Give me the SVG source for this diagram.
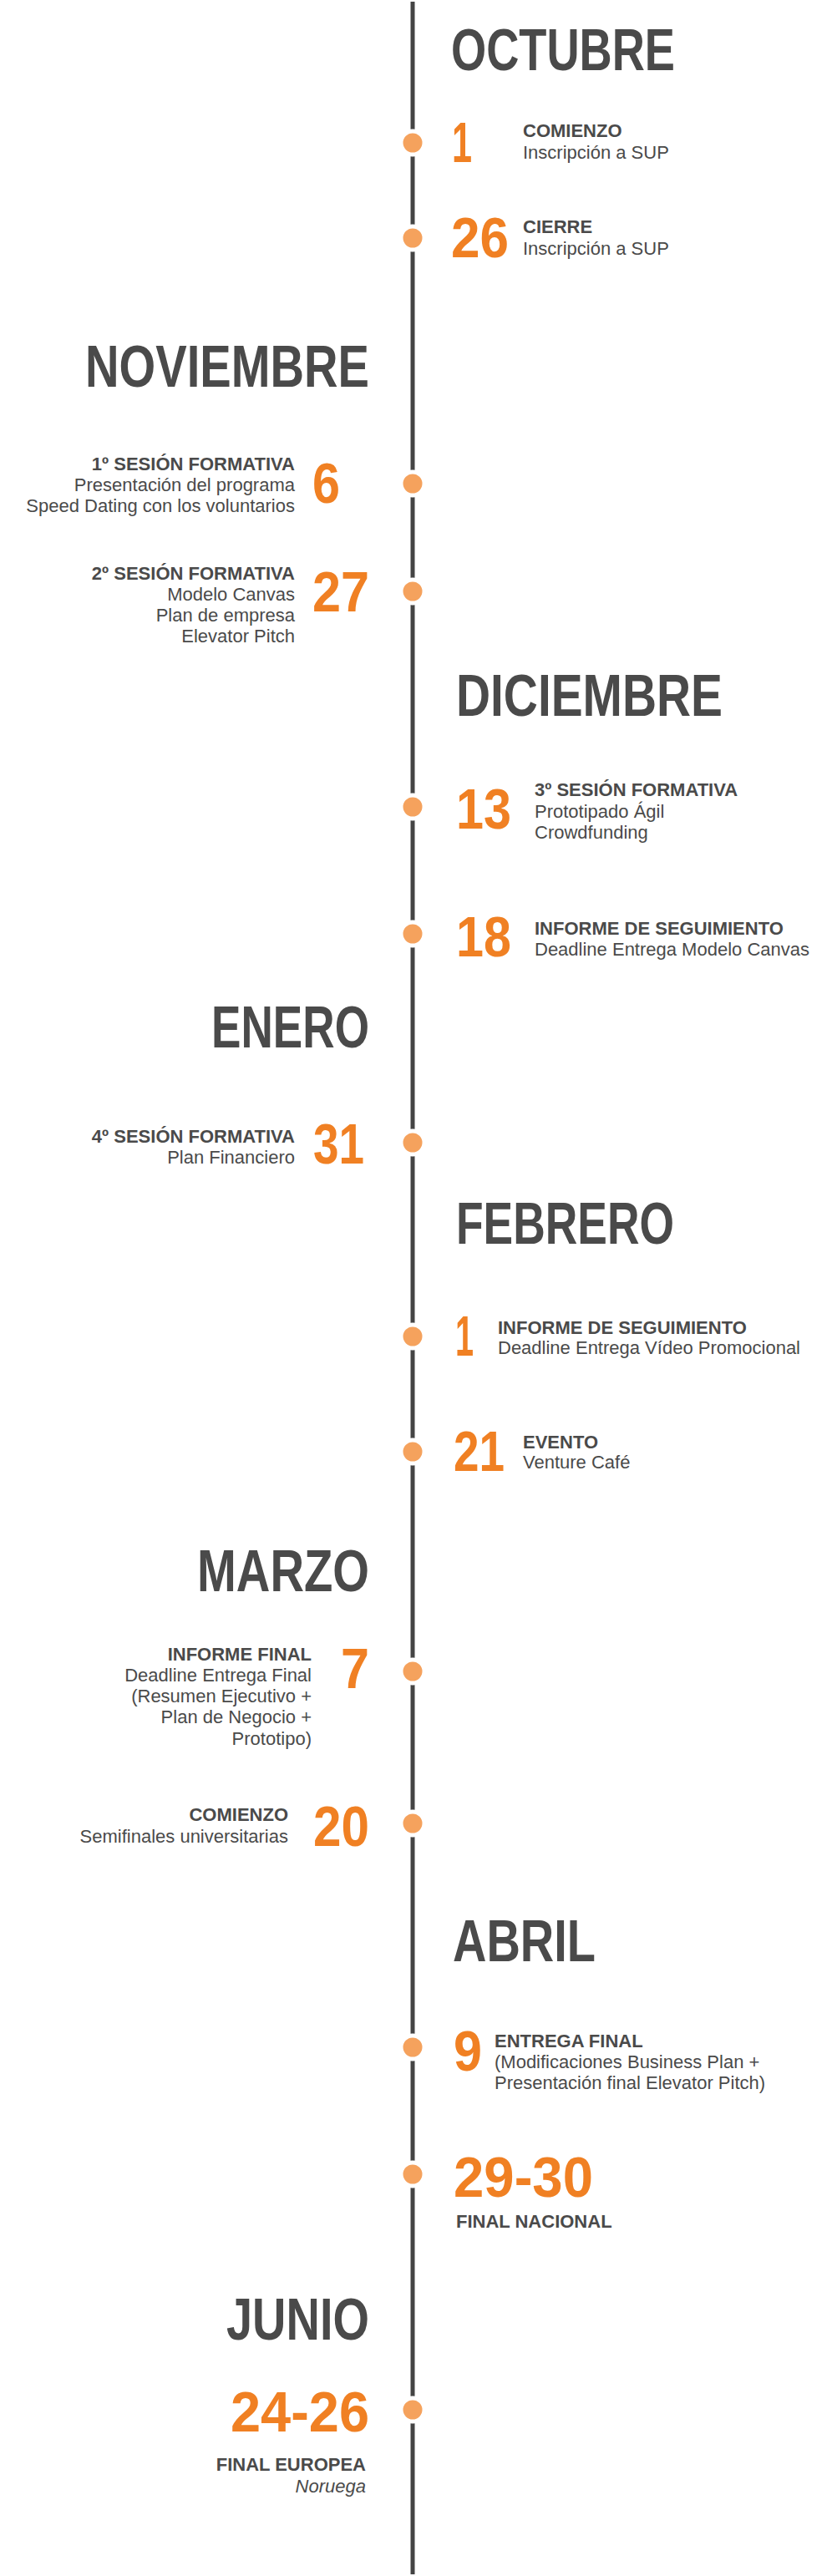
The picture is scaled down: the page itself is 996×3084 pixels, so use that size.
<svg xmlns="http://www.w3.org/2000/svg" width="996" height="3084" viewBox="0 0 996 3084">
<style>
.m{font-family:"Liberation Sans",Arial,sans-serif;font-weight:bold;font-size:70px;fill:#4a4a4a}
.n{font-family:"Liberation Sans",Arial,sans-serif;font-weight:bold;font-size:68px;fill:#f08023}
.b{font-family:"Liberation Sans",Arial,sans-serif;font-weight:bold;font-size:22px;fill:#4a4a4a}
.t{font-family:"Liberation Sans",Arial,sans-serif;font-size:22px;fill:#4a4a4a}
.r{text-anchor:end}
.dot{fill:#f5a25d;stroke:#fff;stroke-width:5}
</style>
<rect width="996" height="3084" fill="#fff"/>
<g id="connectors"><line x1="494" y1="2" x2="494" y2="3082" stroke="#444" stroke-width="5"/></g>
<g id="octubre"><text class="m" x="540" y="84" textLength="268" lengthAdjust="spacingAndGlyphs">OCTUBRE</text></g>
<g id="oct1"><circle class="dot" cx="494" cy="171" r="14"/><text class="n" x="541" y="194" textLength="24" lengthAdjust="spacingAndGlyphs">1</text><text class="b" x="626" y="164">COMIENZO</text><text class="t" x="626" y="190">Inscripción a SUP</text></g>
<g id="oct26"><circle class="dot" cx="494" cy="285" r="14"/><text class="n" x="540" y="308" textLength="69" lengthAdjust="spacingAndGlyphs">26</text><text class="b" x="626" y="279">CIERRE</text><text class="t" x="626" y="305">Inscripción a SUP</text></g>
<g id="noviembre"><text class="m r" x="442" y="463" textLength="340" lengthAdjust="spacingAndGlyphs">NOVIEMBRE</text></g>
<g id="nov6"><circle class="dot" cx="494" cy="579" r="14"/><text class="n r" x="407" y="602" textLength="33" lengthAdjust="spacingAndGlyphs">6</text><text class="b r" x="353" y="563">1º SESIÓN FORMATIVA</text><text class="t r" x="353" y="588">Presentación del programa</text><text class="t r" x="353" y="613">Speed Dating con los voluntarios</text></g>
<g id="nov27"><circle class="dot" cx="494" cy="708" r="14"/><text class="n r" x="442" y="732" textLength="68" lengthAdjust="spacingAndGlyphs">27</text><text class="b r" x="353" y="694">2º SESIÓN FORMATIVA</text><text class="t r" x="353" y="719">Modelo Canvas</text><text class="t r" x="353" y="744">Plan de empresa</text><text class="t r" x="353" y="769">Elevator Pitch</text></g>
<g id="diciembre"><text class="m" x="546" y="857" textLength="319" lengthAdjust="spacingAndGlyphs">DICIEMBRE</text></g>
<g id="dic13"><circle class="dot" cx="494" cy="966" r="14"/><text class="n" x="546" y="992" textLength="66" lengthAdjust="spacingAndGlyphs">13</text><text class="b" x="640" y="953">3º SESIÓN FORMATIVA</text><text class="t" x="640" y="979">Prototipado Ágil</text><text class="t" x="640" y="1004">Crowdfunding</text></g>
<g id="dic18"><circle class="dot" cx="494" cy="1118" r="14"/><text class="n" x="546" y="1145" textLength="66" lengthAdjust="spacingAndGlyphs">18</text><text class="b" x="640" y="1119">INFORME DE SEGUIMIENTO</text><text class="t" x="640" y="1144">Deadline Entrega Modelo Canvas</text></g>
<g id="enero"><text class="m r" x="442" y="1254" textLength="189" lengthAdjust="spacingAndGlyphs">ENERO</text></g>
<g id="ene31"><circle class="dot" cx="494" cy="1368" r="14"/><text class="n r" x="436" y="1393" textLength="61" lengthAdjust="spacingAndGlyphs">31</text><text class="b r" x="353" y="1368">4º SESIÓN FORMATIVA</text><text class="t r" x="353" y="1393">Plan Financiero</text></g>
<g id="febrero"><text class="m" x="546" y="1489" textLength="261" lengthAdjust="spacingAndGlyphs">FEBRERO</text></g>
<g id="feb1"><circle class="dot" cx="494" cy="1600" r="14"/><text class="n" x="545" y="1623" textLength="22" lengthAdjust="spacingAndGlyphs">1</text><text class="b" x="596" y="1597">INFORME DE SEGUIMIENTO</text><text class="t" x="596" y="1621">Deadline Entrega Vídeo Promocional</text></g>
<g id="feb21"><circle class="dot" cx="494" cy="1738" r="14"/><text class="n" x="543" y="1761" textLength="61" lengthAdjust="spacingAndGlyphs">21</text><text class="b" x="626" y="1734">EVENTO</text><text class="t" x="626" y="1758">Venture Café</text></g>
<g id="marzo"><text class="m r" x="442" y="1905" textLength="206" lengthAdjust="spacingAndGlyphs">MARZO</text></g>
<g id="mar7"><circle class="dot" cx="494" cy="2001" r="14"/><text class="n r" x="442" y="2021" textLength="34" lengthAdjust="spacingAndGlyphs">7</text><text class="b r" x="373" y="1988">INFORME FINAL</text><text class="t r" x="373" y="2013">Deadline Entrega Final</text><text class="t r" x="373" y="2038">(Resumen Ejecutivo +</text><text class="t r" x="373" y="2063">Plan de Negocio +</text><text class="t r" x="373" y="2089">Prototipo)</text></g>
<g id="mar20"><circle class="dot" cx="494" cy="2183" r="14"/><text class="n r" x="442" y="2210" textLength="67" lengthAdjust="spacingAndGlyphs">20</text><text class="b r" x="345" y="2180">COMIENZO</text><text class="t r" x="345" y="2206">Semifinales universitarias</text></g>
<g id="abril"><text class="m" x="542" y="2348" textLength="171" lengthAdjust="spacingAndGlyphs">ABRIL</text></g>
<g id="abr9"><circle class="dot" cx="494" cy="2451" r="14"/><text class="n" x="543" y="2479" textLength="34" lengthAdjust="spacingAndGlyphs">9</text><text class="b" x="592" y="2451">ENTREGA FINAL</text><text class="t" x="592" y="2476">(Modificaciones Business Plan +</text><text class="t" x="592" y="2501">Presentación final Elevator Pitch)</text></g>
<g id="abr29"><circle class="dot" cx="494" cy="2603" r="14"/><text class="n" x="543" y="2630" textLength="167" lengthAdjust="spacingAndGlyphs">29-30</text><text class="b" x="546" y="2667">FINAL NACIONAL</text></g>
<g id="junio"><text class="m r" x="442" y="2801" textLength="171" lengthAdjust="spacingAndGlyphs">JUNIO</text></g>
<g id="jun24"><circle class="dot" cx="494" cy="2885" r="14"/><text class="n r" x="442" y="2911" textLength="166" lengthAdjust="spacingAndGlyphs">24-26</text><text class="b r" x="438" y="2958">FINAL EUROPEA</text><text class="t r" x="438" y="2984" font-style="italic">Noruega</text></g>
</svg>
